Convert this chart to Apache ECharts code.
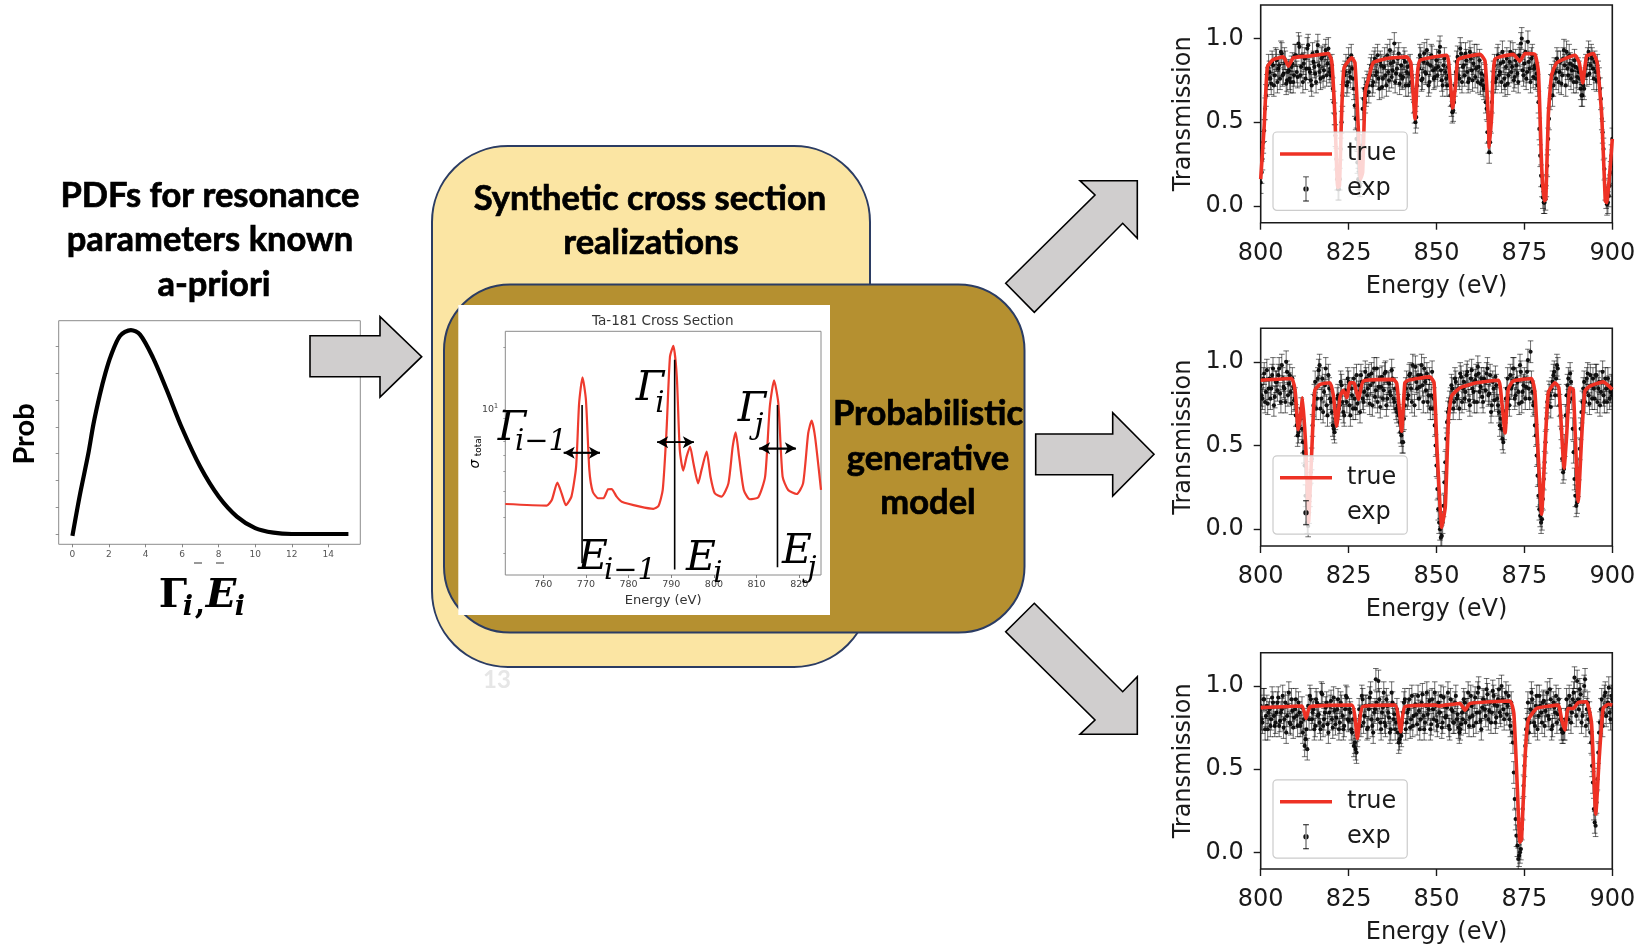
<!DOCTYPE html>
<html><head><meta charset="utf-8">
<style>html,body{margin:0;padding:0;background:#fff}#c{width:1639px;height:946px}</style>
<script src="https://cdn.jsdelivr.net/npm/echarts@6/dist/echarts.min.js"></script>
</head><body><div id="c"></div>
<script>
// ---------- data ----------
const transmissionTicks = [0, 0.5, 1];
const pdfXTicks = [0, 2, 4, 6, 8, 10, 12, 14];
const pdfYTicks = [0, 1, 2, 3, 4, 5, 6, 7];
const insetXTicks = [760, 770, 780, 790, 800, 810, 820];
const insetYMinor = [2, 3, 4, 5, 6, 7, 8, 9, 10, 20];
const pdfCurve = [[0,-0.07],[0.42,1.5],[0.87,3.0],[1.15,4.1],[1.5,5.2],[1.8,6.0],[2.1,6.65],[2.6,7.4],[3.2,7.62],[3.7,7.45],[4.4,6.6],[5.15,5.4],[6,3.95],[7,2.5],[8,1.4],[9,0.65],[10,0.22],[11,0.05],[12,0],[15.1,0]];
const insetCurve = [[751.1,3.47],[760.8,3.41],[762,3.63],[763.3,4.41],[764.3,3.91],[765.3,3.43],[766.6,3.77],[767.7,5.27],[768.4,10.7],[769.2,14.3],[770,11.1],[770.8,5.08],[771.6,3.98],[772.9,3.7],[774.1,3.7],[775.2,4.09],[776,4.1],[777.2,3.77],[778.4,3.56],[782.7,3.37],[785.8,3.29],[787,3.39],[788,4.06],[788.9,7.94],[789.7,18],[790.5,20.3],[791.3,14.4],[792,6.35],[792.8,5.04],[793.6,5.89],[794.4,6.59],[795.2,5.47],[796.3,4.37],[797.1,5.08],[798.3,6.23],[799.2,4.71],[800.2,3.91],[801.8,3.77],[803.4,4.37],[804.4,6.59],[805.1,7.73],[805.9,5.89],[807,4.06],[808.4,3.66],[810.4,3.74],[812,4.71],[813.1,10.3],[814.1,13.8],[815.1,10.7],[816.1,4.71],[817.4,4.06],[819.4,3.88],[820.9,4.37],[822.1,7.65],[822.9,8.81],[823.7,7.37],[825.1,4.06]];
const insetResonances = [[769.1,10.5,1.79],[790.8,17.4,1.67],[814.9,10.5,1.71]];
const insetWidths = [[764.8,773.3,6.16],[786.7,795.3,6.92],[810.6,819.2,6.47]];
const trueCurve1 = [[800,.16],[801,.48],[801.9,.83],[803.6,.875],[806.4,.89],[807.9,.835],[809.3,.885],[814,.895],[819.2,.91],[820.2,.865],[821.1,.54],[821.9,.11],[822.4,.12],[823,.54],[823.7,.825],[825.9,.885],[826.8,.855],[827.8,.44],[828.4,.16],[829,.2],[829.7,.68],[830.6,.755],[832,.855],[835.8,.88],[841.5,.89],[842.7,.855],[843.9,.52],[844.6,.795],[845.3,.87],[852.9,.9],[853.8,.775],[854.6,.585],[855.5,.735],[856.2,.875],[862.4,.905],[863.8,.865],[864.7,.54],[865,.35],[865.7,.54],[866.6,.875],[871.8,.905],[873.7,.865],[875.2,.91],[878,.905],[879,.795],[879.9,.24],[880.6,.03],[881.1,.04],[881.8,.54],[882.7,.775],[884.2,.855],[889.4,.9],[890.6,.855],[891.6,.735],[892.7,.895],[894.6,.91],[895.7,.855],[897,.54],[898,.03],[898.4,.02],[899.2,.18],[900,.4]];
const trueCurve2 = [[800,.89],[808.8,.9],[809.8,.825],[810.7,.595],[811.2,.655],[811.9,.785],[812.9,.455],[813.6,.04],[814.5,.455],[815.4,.83],[816.9,.865],[819.7,.875],[820.7,.795],[821.6,.615],[822.6,.795],[823.5,.83],[824.5,.785],[825.4,.875],[826.5,.875],[827.8,.775],[829.2,.885],[837.7,.895],[838.7,.87],[840.1,.585],[841,.875],[842,.89],[848.1,.91],[849.3,.875],[850.2,.455],[851.5,.01],[852.5,.135],[853.4,.655],[854.3,.795],[856.7,.845],[861.4,.875],[867.6,.89],[868.5,.775],[869.5,.575],[870.4,.835],[871.8,.885],[877,.9],[878,.815],[878.9,.455],[879.9,.09],[880.8,.455],[881.8,.815],[883.7,.875],[884.8,.845],[886.3,.365],[887,.555],[887.9,.845],[888.9,.835],[890.3,.165],[891.3,.555],[892.2,.825],[893.6,.855],[897.4,.88],[900,.835]];
const trueCurve3 = [[800,.87],[811.7,.88],[812.9,.805],[814,.875],[825.9,.885],[827.5,.685],[829,.875],[838.2,.885],[839.8,.725],[841,.875],[849.6,.885],[850.5,.88],[856.7,.895],[858.1,.855],[859.5,.895],[870.9,.91],[872,.835],[873,.38],[873.7,.06],[874.2,.08],[875.2,.575],[876.1,.795],[878.5,.865],[884.6,.885],[885.6,.795],[886.5,.735],[887.4,.865],[888.9,.865],[890.3,.9],[892.7,.905],[894.1,.775],[895.3,.23],[896.3,.575],[897.4,.865],[898.9,.89],[900,.885]];
const expStart = 800, expStep = 0.5, expOffset = 0.25, expError = 0.065;
const expValues1 = [.14,.28,.45,.66,.76,.80,.73,.84,.78,.87,
.82,.76,.91,.79,.86,.75,.81,.74,.85,.78,
.90,.77,.95,.83,.74,.88,.82,.96,.80,.72,
.86,.79,.92,.84,.76,.89,.81,.93,.85,.80,
.78,.70,.55,.28,.10,.16,.50,.74,.80,.72,
.88,.77,.82,.70,.52,.26,.14,.20,.58,.70,
.66,.72,.78,.84,.74,.88,.80,.76,.86,.71,
.83,.78,.90,.75,.85,.81,.97,.79,.88,.73,
.84,.77,.86,.80,.72,.84,.78,.62,.50,.72,
.82,.88,.76,.91,.79,.85,.74,.90,.81,.77,
.87,.83,.95,.75,.84,.80,.72,.78,.66,.56,
.62,.80,.89,.76,.91,.83,.78,.87,.74,.92,
.81,.85,.77,.90,.83,.73,.75,.70,.62,.44,
.32,.50,.74,.84,.76,.90,.80,.74,.86,.72,
.88,.78,.92,.83,.75,.87,.79,.90,.97,.81,
.85,.76,.98,.82,.88,.77,.84,.79,.62,.30,
.12,.02,.04,.24,.52,.72,.66,.82,.76,.86,
.80,.73,.88,.84,.92,.78,.85,.81,.74,.83,
.77,.80,.70,.66,.70,.84,.88,.79,.90,.82,
.86,.75,.80,.70,.52,.34,.10,.01,.06,.20,.40];
const expBetween1 = [.20,.38,.58,.72,.84,.76,.86,.72,.88,.74,
.84,.92,.78,.88,.73,.80,.76,.83,.74,.90,
.80,.97,.78,.90,.85,.76,.94,.82,.75,.91,
.83,.74,.96,.80,.88,.77,.90,.78,.94,.82,
.84,.62,.42,.16,.10,.34,.66,.78,.84,.74,
.80,.90,.76,.60,.40,.16,.12,.36,.64,.62,
.74,.68,.82,.72,.86,.78,.90,.70,.84,.76,
.88,.72,.80,.93,.77,.86,.74,.82,.91,.78,
.76,.88,.72,.83,.79,.74,.70,.56,.53,.78,
.90,.75,.86,.80,.93,.72,.84,.89,.76,.82,
.78,.92,.81,.72,.88,.76,.83,.72,.60,.57,
.72,.86,.78,.94,.74,.84,.91,.80,.76,.88,
.75,.90,.82,.74,.87,.79,.72,.78,.58,.38,
.38,.62,.80,.74,.88,.78,.85,.92,.76,.83,
.73,.86,.80,.91,.77,.84,.74,.88,1.0,.78,
.92,.80,.86,.74,.90,.82,.76,.72,.46,.18,
.05,.02,.12,.40,.64,.78,.72,.80,.88,.74,
.86,.78,.93,.72,.82,.90,.76,.84,.87,.74,
.82,.76,.66,.72,.82,.78,.92,.84,.88,.76,
.80,.84,.76,.64,.44,.22,.05,.02,.12,.30];
const expValues2 = [.86,.78,.93,.82,.75,.90,.84,.96,.79,.88,
.92,.81,.98,.85,.76,.94,.87,.82,.90,.77,
.68,.56,.62,.72,.52,.38,.10,.02,.20,.42,
.74,.88,.78,.95,.72,.90,.82,.96,.68,.84,
.76,.62,.58,.68,.80,.74,.86,.70,.83,.76,
.88,.68,.80,.90,.72,.75,.86,.92,.78,.82,
.90,.84,.75,.93,.88,.79,.96,.85,.73,.91,
.83,.94,.78,.87,.80,.90,.76,.72,.74,.64,
.56,.52,.74,.88,.80,.93,.76,.90,.97,.84,
.78,.92,.86,.96,.83,.76,.90,.80,.72,.62,
.38,.12,.00,-.04,.14,.40,.64,.72,.78,.84,
.76,.88,.80,.72,.91,.84,.78,.92,.86,.74,
.95,.82,.89,.76,.93,.85,.79,.90,.83,.96,
.81,.70,.88,.77,.86,.74,.62,.60,.52,.70,
.84,.78,.92,.86,.96,.80,.88,.75,.94,.82,
.90,.85,1.01,.78,.88,.74,.62,.44,.20,.08,
.06,.30,.52,.76,.82,.73,.88,.94,.90,.96,
.74,.60,.34,.50,.80,.90,.93,.78,.46,.20,
.16,.36,.60,.76,.88,.82,.93,.75,.86,.90,
.78,.92,.84,.74,.88,.80,.90,.76,.85,.82,.80];
const expBetween2 = [.80,.90,.76,.95,.84,.78,.92,.74,.88,.83,
.96,.76,.90,.84,1.0,.80,.92,.75,.85,.78,
.62,.58,.66,.60,.46,.20,.04,.10,.34,.62,
.80,.72,.90,.98,.78,.70,.86,.74,.92,.78,
.70,.60,.66,.78,.72,.88,.76,.68,.80,.90,
.74,.84,.72,.78,.92,.82,.70,.88,.76,.94,
.80,.92,.86,.74,.96,.83,.76,.90,.85,.78,
.93,.74,.88,.82,.95,.78,.84,.70,.68,.58,
.52,.66,.84,.78,.92,.84,.98,.74,.88,.92,
.85,.98,.76,.88,.93,.80,.72,.94,.78,.50,
.24,.04,-.05,.04,.28,.54,.70,.76,.86,.72,
.90,.78,.84,.93,.76,.88,.82,.94,.77,.90,
.84,.76,.92,.97,.82,.90,.76,.88,.93,.80,
.92,.74,.84,.91,.78,.70,.66,.54,.60,.78,
.90,.74,.84,.96,.78,.90,.82,.98,.76,.86,
.78,.94,.84,1.06,.82,.76,.56,.32,.12,.04,
.18,.40,.66,.74,.80,.84,.92,.80,.98,.80,
.68,.42,.36,.68,.86,.76,.88,.60,.30,.14,
.26,.48,.70,.84,.76,.90,.80,.92,.78,.84,
.92,.76,.88,.82,.94,.76,.84,.90,.78,.86];
const expValues3 = [.88,.78,.92,.82,.74,.86,.80,.90,.76,.84,
.93,.79,.86,.75,.90,.82,.96,.77,.85,.81,
.92,.76,.84,.78,.72,.64,.74,.88,.94,.80,
.86,.76,.90,.83,.74,.95,.80,.87,.77,.84,
.91,.75,.85,.81,.92,.78,.88,.74,.86,.93,
.79,.84,.72,.64,.62,.70,.86,.76,.92,.82,
.88,.75,.93,.80,.72,.86,.90,1.03,.78,.84,
.96,.76,.88,.81,.74,.90,.83,.78,.72,.68,
.70,.84,.92,.78,.86,.75,.94,.82,.89,.77,
.85,.80,.95,.74,.88,.83,.91,.77,.86,.96,
.79,.90,.84,.75,.93,.81,.87,.76,.92,.85,
.78,.94,.83,.72,.77,.80,.90,.86,.96,.81,
.88,.76,.93,.84,.99,.79,.87,.91,.82,.95,
.85,.78,.97,.89,.81,.92,.84,1.0,.86,.90,
.83,.94,.76,.72,.48,.20,.04,-.02,.02,.26,
.52,.74,.90,.78,.96,.84,.76,.94,.82,.88,
.78,.91,.85,.96,.80,.92,.76,.87,.94,.83,
.86,.74,.72,.74,.92,.80,.88,.84,.96,.90,
1.03,.86,.95,.82,1.0,.76,.90,.84,.66,.42,
.18,.30,.60,.78,.92,.84,.96,.88,.99,.80,.92];
const expBetween3 = [.80,.92,.74,.88,.84,.76,.93,.82,.78,.90,
.76,.84,.94,.80,.72,.88,.78,.92,.75,.86,
.82,.90,.76,.87,.80,.68,.62,.80,.92,.84,
.74,.92,.82,.78,.96,.76,.84,.90,.72,.88,
.80,.93,.77,.86,.74,.90,.82,.76,.94,.80,
.86,.74,.80,.66,.60,.74,.82,.94,.78,.88,
.74,.86,.96,.76,.84,1.04,.80,.92,.74,.87,
.78,.92,.84,.72,.96,.80,.74,.86,.66,.72,
.78,.90,.74,.84,.92,.80,.76,.88,.83,.94,
.74,.90,.82,.78,.96,.86,.74,.92,.80,.88,
.76,.84,.94,.78,.88,.82,.96,.74,.86,.78,
.90,.80,.75,.74,.84,.92,.78,.86,.76,.94,
.82,.90,.78,.96,.84,.74,.92,.86,.98,.80,
.90,.84,.94,.78,.88,.98,.82,.92,.80,.96,
.88,.80,.90,.66,.32,.10,-.04,.00,.14,.40,
.64,.80,.72,.86,.92,.78,.88,.74,.94,.84,
.90,.76,.88,.82,.98,.74,.90,.84,.78,.92,
.80,.72,.74,.80,.86,.94,.78,.92,1.05,.82,
.92,.98,.78,.90,1.04,.86,.80,.72,.52,.26,
.16,.44,.72,.86,.76,.94,.82,.90,.84,.94];

// ---------- styles ----------
const SANS = '"DejaVu Sans"', HEAD = 'Lato, "Open Sans", sans-serif', SERIF = '"DejaVu Serif"';
const RED = '#EE3124', INK = '#1a1a1a', ARROW = '#D0CECE';
const panels = [
  {top:5, bottom:222.7, curve:trueCurve1, exp:expValues1, between:expBetween1, legendTop:132},
  {top:328.3, bottom:546, curve:trueCurve2, exp:expValues2, between:expBetween2, legendTop:455.8},
  {top:652.7, bottom:869.3, curve:trueCurve3, exp:expValues3, between:expBetween3, legendTop:779.8}
];
const grids = [], xAxes = [], yAxes = [], series = [], legends = [];

function expItem(params, api) {
  const x = api.value(0), y = api.value(1), lo = api.value(2), hi = api.value(3);
  const p = api.coord([x, y]), a = api.coord([x, lo]), b = api.coord([x, hi]);
  const ln = {stroke:'rgba(0,0,0,.72)', lineWidth:.8};
  const cs = params.coordSys;
  return {type:'group', clipPath:{type:'rect', shape:{x:cs.x, y:cs.y, width:cs.width, height:cs.height}}, children:[
    {type:'line', shape:{x1:a[0],y1:a[1],x2:b[0],y2:b[1]}, style:ln},
    {type:'line', shape:{x1:a[0]-2.8,y1:a[1],x2:a[0]+2.8,y2:a[1]}, style:ln},
    {type:'line', shape:{x1:b[0]-2.8,y1:b[1],x2:b[0]+2.8,y2:b[1]}, style:ln},
    {type:'circle', shape:{cx:p[0],cy:p[1],r:2.1}, style:{fill:'#111'}}
  ]};
}

panels.forEach((pn, i) => {
  grids.push({left:1260.7, width:351.6, top:pn.top, height:pn.bottom-pn.top, show:true, borderColor:INK, borderWidth:1.6, backgroundColor:'transparent'});
  xAxes.push({gridIndex:i, type:'value', min:800, max:900, interval:25, name:'Energy (eV)', nameLocation:'middle', nameGap:52,
    nameTextStyle:{fontFamily:SANS, fontSize:24, color:INK},
    axisLine:{show:false, onZero:false}, axisTick:{length:7, lineStyle:{color:INK, width:1.4}},
    axisLabel:{fontFamily:SANS, fontSize:24, color:INK, margin:19}, splitLine:{show:false}});
  yAxes.push({gridIndex:i, type:'value', min:-0.1, max:1.2, name:'Transmission', nameLocation:'middle', nameGap:65,
    nameTextStyle:{fontFamily:SANS, fontSize:24, color:INK},
    axisLine:{show:false, onZero:false}, axisTick:{length:7, customValues:transmissionTicks, lineStyle:{color:INK, width:1.4}},
    axisLabel:{fontFamily:SANS, fontSize:24, color:INK, margin:17, verticalAlign:'middle', lineHeight:24, padding:[12,0,0,0], customValues:transmissionTicks, formatter:v=>Number(v).toFixed(1)},
    splitLine:{show:false}});
  const onGrid = pn.exp.map((v,k)=>[expStart+k*expStep, v, v-expError, v+expError]);
  const offGrid = pn.between.map((v,k)=>[expStart+expOffset+k*expStep, v, v-expError, v+expError]);
  series.push({type:'custom', name:'exp', xAxisIndex:i, yAxisIndex:i, renderItem:expItem, z:2, clip:true, silent:true,
    itemStyle:{color:'#111'}, encode:{x:0,y:1}, data:onGrid.concat(offGrid)});
  series.push({type:'line', name:'true', xAxisIndex:i, yAxisIndex:i, data:pn.curve, symbol:'none', showSymbol:false, smooth:0.15, z:3, clip:true, silent:true,
    lineStyle:{color:RED, width:3.6}, itemStyle:{color:RED}});
  legends.push({left:1273, top:pn.legendTop, orient:'vertical', selectedMode:false, z:5,
    data:[{name:'true', icon:'path://M0 0h52v3.4H0z', itemStyle:{color:RED}},{name:'exp', icon:'path://M0 0h6v1H0zM2.6 1h.8v24h-.8zM0 25h6v1H0zM3 10.2a2.8 2.8 0 1 0 .01 0z'}],
    backgroundColor:'rgba(255,255,255,.8)', borderColor:'#ccc', borderWidth:1.2, borderRadius:4,
    padding:[10,11,9,7], itemWidth:52, itemHeight:25, itemGap:10.4, lineStyle:{width:0},
    textStyle:{fontFamily:SANS, fontSize:24, color:INK, padding:[3,0,0,10]}});
});

// PDF panel (index 3)
grids.push({left:58.7, width:301.6, top:320.7, height:223.6, show:true, borderColor:'#8c8c8c', borderWidth:1, backgroundColor:'transparent'});
xAxes.push({gridIndex:3, type:'value', min:-0.75, max:15.75, axisLine:{show:false, onZero:false},
  axisTick:{length:3, customValues:pdfXTicks, lineStyle:{color:'#666', width:.8}},
  axisLabel:{fontFamily:SANS, fontSize:9, color:'#555', margin:6, customValues:pdfXTicks, formatter:v=>String(v)}, splitLine:{show:false}});
yAxes.push({gridIndex:3, type:'value', min:-0.385, max:7.97, axisLine:{show:false, onZero:false},
  axisTick:{length:3, customValues:pdfYTicks, lineStyle:{color:'#777', width:.8}}, axisLabel:{show:false}, splitLine:{show:false}});
series.push({type:'line', name:'pdf', xAxisIndex:3, yAxisIndex:3, data:pdfCurve, symbol:'none', showSymbol:false, smooth:0.3, silent:true, z:3, lineStyle:{color:'#000', width:4.2}});

// Inset panel (index 4)
grids.push({left:505.3, width:315.7, top:331.3, height:243.7, show:true, borderColor:'#8a8a8a', borderWidth:1, backgroundColor:'transparent'});
xAxes.push({gridIndex:4, type:'value', min:751.1, max:825.1, name:'Energy (eV)', nameLocation:'middle', nameGap:19,
  nameTextStyle:{fontFamily:SANS, fontSize:13, color:'#333'}, axisLine:{show:false, onZero:false},
  axisTick:{length:3, customValues:insetXTicks, lineStyle:{color:'#666', width:.8}},
  axisLabel:{fontFamily:SANS, fontSize:9.5, color:'#444', margin:5, customValues:insetXTicks, formatter:v=>String(v)}, splitLine:{show:false}});
yAxes.push({gridIndex:4, type:'log', logBase:10, min:1.57, max:23.9, axisLine:{show:false, onZero:false},
  axisTick:{length:2, customValues:insetYMinor, lineStyle:{color:'#777', width:.7}},
  axisLabel:{show:false}, splitLine:{show:false}});
series.push({type:'line', name:'xs', xAxisIndex:4, yAxisIndex:4, data:insetCurve, symbol:'none', showSymbol:false, smooth:0.2, silent:true, z:3, lineStyle:{color:'#EE3B2E', width:2.2}});
insetResonances.forEach(r => series.push({type:'line', name:'res', xAxisIndex:4, yAxisIndex:4, data:[[r[0],r[1]],[r[0],r[2]]], symbol:'none', showSymbol:false, silent:true, z:4, lineStyle:{color:'#000', width:1.6}}));
insetWidths.forEach(r => series.push({type:'line', name:'width', xAxisIndex:4, yAxisIndex:4, data:[[r[0],r[2]],[r[1],r[2]]], symbol:'none', showSymbol:false, silent:true, z:4, lineStyle:{color:'#000', width:1.6},
  markLine:{silent:true, animation:false, symbol:['arrow','arrow'], symbolSize:[9,11], label:{show:false}, lineStyle:{color:'#000', width:1.6, type:'solid'}, data:[[{coord:[r[0],r[2]]},{coord:[r[1],r[2]]}]]}}));

// ---------- annotations ----------
function txt(text, x, y, font, extra, fill) {
  return Object.assign({type:'text', z:20, x:x, y:y, style:{text:text, font:font, fill:fill||'#000', textAlign:'center', textVerticalAlign:'middle'}}, extra||{});
}
function head(text, x, y) {
  return {type:'text', z:20, x:x, y:y, style:{text:text, font:'bold 34.5px '+HEAD, fill:'#000', stroke:'#000', lineWidth:.7, textAlign:'center', textVerticalAlign:'middle'}};
}
function arrow(points) {
  return {type:'polygon', z:20, shape:{points:points}, style:{fill:ARROW, stroke:'#000', lineWidth:1.6, lineJoin:'miter'}};
}
const mathBig = 'italic 41px ' + SERIF, mathSub = 'italic 29px ' + SERIF;
const els = [
  {type:'rect', z:-5, shape:{x:432,y:146,width:438,height:521,r:76}, style:{fill:'#FBE5A3',stroke:'#2B3C63',lineWidth:2}},
  {type:'rect', z:-4, shape:{x:444,y:284.5,width:580.5,height:348,r:66}, style:{fill:'#B59030',stroke:'#2B3C63',lineWidth:2}},
  {type:'rect', z:-3, shape:{x:458.3,y:305,width:371.7,height:310}, style:{fill:'#fff'}},
  txt('13', 497, 680, 'bold 24px ' + HEAD, {z:-5}, '#e6e6e6'),
  head('PDFs for resonance', 210, 196),
  head('parameters known', 210, 240),
  head('a-priori', 214, 285),
  head('Synthetic cross section', 650, 199),
  head('realizations', 651, 243),
  head('Probabilistic', 928, 414),
  head('generative', 928, 459),
  head('model', 928, 503),
  txt('Prob', 25, 434, 'bold 29px ' + HEAD, {rotation:Math.PI/2}),
  // Gamma_i, E_i under the PDF
  txt('Γ', 173, 597, 'bold 40px ' + SERIF),
  txt('i', 188, 608, 'italic bold 27px ' + SERIF),
  txt(',', 200, 606, 'bold 30px ' + SERIF),
  txt('E', 221, 597, 'italic bold 40px ' + SERIF),
  txt('i', 240, 608, 'italic bold 27px ' + SERIF),
  {type:'line', z:20, shape:{x1:194,y1:563,x2:202,y2:563}, style:{stroke:'#333',lineWidth:1}},
  {type:'line', z:20, shape:{x1:216,y1:563,x2:224,y2:563}, style:{stroke:'#333',lineWidth:1}},
  // inset texts
  txt('Ta-181 Cross Section', 662.7, 321, '13.6px ' + SANS, null, '#333'),
  txt('10', 488, 410, '9.5px ' + SANS, null, '#444'),
  txt('1', 496, 406, '7px ' + SANS, null, '#444'),
  txt('σ', 475, 464, 'italic 14px ' + SANS, {rotation:Math.PI/2}),
  txt('total', 479, 446, '9px ' + SANS, {rotation:Math.PI/2}),
  // math labels
  txt('Γ', 512, 429, mathBig), txt('i−1', 541, 442, mathSub),
  txt('E', 593, 558, mathBig), txt('i−1', 630, 571, mathSub),
  txt('Γ', 650, 389, mathBig), txt('i', 660, 404, mathSub),
  txt('Γ', 752, 410, mathBig), txt('j', 759, 426, mathSub),
  txt('E', 701, 559, mathBig), txt('i', 718, 574, mathSub),
  txt('E', 797, 552, mathBig), txt('j', 812, 569, mathSub),
  arrow([[310,335.7],[380,335.7],[380,316.7],[421.7,356.7],[380,397],[380,376.7],[310,376.7]]),
  arrow([[1005.7,283.3],[1095,195],[1080,180.7],[1137.3,180.7],[1137.3,238.3],[1122.7,223.3],[1034.3,312.3]]),
  arrow([[1035.7,434],[1112.7,434],[1112.7,412.7],[1154,454.3],[1112.7,496],[1112.7,474.7],[1035.7,474.7]]),
  arrow([[1034.3,603.3],[1122.7,691.7],[1137.3,676.7],[1137.3,734.3],[1080,734.3],[1095,720],[1005.7,631.7]])
];

const chart = echarts.init(document.getElementById('c'), null, {renderer:'canvas'});
chart.setOption({animation:false, backgroundColor:'#fff', tooltip:{show:false}, grid:grids, xAxis:xAxes, yAxis:yAxes, series:series, legend:legends, graphic:{elements:els}});
</script></body></html>
